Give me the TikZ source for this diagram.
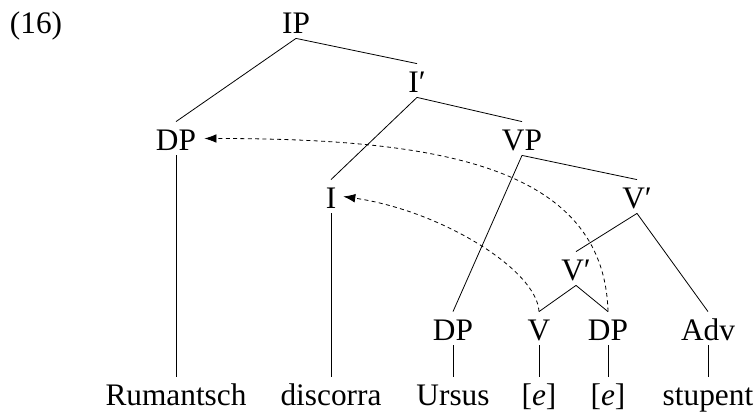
\documentclass[tikz,border=0pt]{standalone}
\usepackage{fontspec}
\setmainfont{Liberation Serif}
\usetikzlibrary{arrows.meta}
\newcommand*{\rwA}{33}
\newcommand*{\rwB}{92}
\newcommand*{\rwC}{150}
\newcommand*{\rwD}{208}
\newcommand*{\rwE}{280}
\newcommand*{\rwF}{340}
\newcommand*{\rwG}{405}
\tikzset{
    cat/.style  = {anchor=base, inner sep=0pt, text height=21pt, text depth=3.75pt},
    move/.style = {dash pattern=on 3pt off 2.5pt, -{Latex[length=9pt,width=6.5pt]}},
}

\begin{document}
\begin{tikzpicture}[x=0.75pt, y=-0.75pt, font=\fontsize{23.5pt}{28pt}\selectfont, line width=0.6pt]
        \useasboundingbox (0,0) rectangle (754,411);
        \node [cat] (ex)    at ( 36,\rwA) {(16)};
        \node [cat] (ip)    at (296,\rwA) {IP};
        \node [cat] (ibar)  at (417,\rwB) {I′};
        \node [cat] (dpa)   at (176,\rwC) {DP};
        \node [cat] (vp)    at (522,\rwC) {VP};
        \node [cat] (infl)  at (331,\rwD) {I};
        \node [cat] (vbara) at (637,\rwD) {V′};
        \node [cat] (vbarb) at (576,\rwE) {V′};
        \node [cat] (dpb)   at (453,\rwF) {DP};
        \node [cat] (verb)  at (539,\rwF) {V};
        \node [cat] (dpc)   at (608,\rwF) {DP};
        \node [cat] (adv)   at (708,\rwF) {Adv};
        \node [cat] (rum)   at (176,\rwG) {Rumantsch};
        \node [cat] (disc)  at (331,\rwG) {discorra};
        \node [cat] (urs)   at (453,\rwG) {Ursus};
        \node [cat] (ea)    at (539,\rwG) {[\textit{e}]};
        \node [cat] (eb)    at (608,\rwG) {[\textit{e}]};
        \node [cat] (stup)  at (708,\rwG) {stupent};
        \draw (ip.south)    -- (dpa.north);
        \draw (ip.south)    -- (ibar.north);
        \draw (ibar.south)  -- (infl.north);
        \draw (ibar.south)  -- (vp.north);
        \draw (vp.south)    -- (dpb.north);
        \draw (vp.south)    -- (vbara.north);
        \draw (vbara.south) -- (vbarb.north);
        \draw (vbara.south) -- (adv.north);
        \draw (vbarb.south) -- (verb.north);
        \draw (vbarb.south) -- (dpc.north);
        \draw (dpa.south)   -- (rum.north);
        \draw (infl.south)  -- (disc.north);
        \draw (dpb.south)   -- (urs.north);
        \draw (verb.south)  -- (ea.north);
        \draw (dpc.south)   -- (eb.north);
        \draw (adv.south)   -- (stup.north);
        % movement
        \draw [move] (verb.north) .. controls +(-2,-42) and +(97,14) .. ([xshift=5pt]infl.east);
        \draw [move] (dpc.north) .. controls +(-4,-147) and +(230,0) .. ([xshift=6pt]dpa.east);
    \end{tikzpicture}
\end{document}
